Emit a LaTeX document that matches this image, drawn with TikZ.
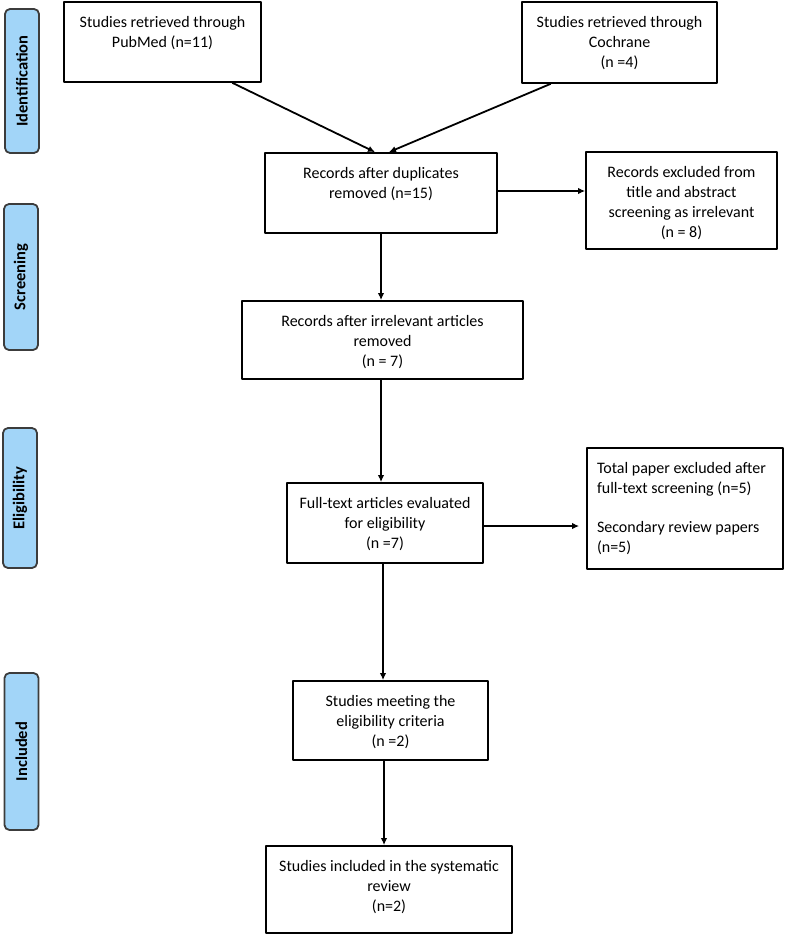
\documentclass[tikz,border=0pt]{standalone}
\usepackage{fontspec}
\setmainfont{Carlito}
\usepackage{xcolor}
\usetikzlibrary{arrows.meta}
\usetikzlibrary{positioning}
\definecolor{phaseblue}{RGB}{162,213,248}
\definecolor{phaseline}{RGB}{60,60,60}
% top-aligned box text: height, width, text
\newcommand{\toptxt}[3]{\parbox[c][#1][t]{#2}{\centering #3}}

\begin{document}
\begin{tikzpicture}[x=1pt,y=-1pt,line cap=round,line join=round,
  font=\fontsize{16}{20}\selectfont,
  flowbox/.style={draw=black,line width=1.8pt,fill=white,inner xsep=4pt,inner ysep=14pt},
  phase/.style={draw=phaseline,line width=1.8pt,fill=phaseblue,rounded corners=5pt,
    rotate=90,minimum height=34pt,inner sep=0pt,font=\fontsize{16.5}{20}\selectfont\bfseries},
  arr/.style={line width=1.8pt,-{Latex[length=7pt,width=6.5pt]}}]
\useasboundingbox (0,0) rectangle (786,936);
% phase labels
\node[phase,minimum width=144pt] (ident) at (22,81) {Identification};
\node[phase,minimum width=146pt] (screen) at (21,277) {Screening};
\node[phase,minimum width=140pt] (elig) at (20,498) {Eligibility};
\node[phase,minimum width=157pt] (incl) at (21.5,751.5) {Included};
% flow boxes
\node[flowbox] (pubmed) at (162.5,42) {\toptxt{52pt}{189pt}{Studies retrieved through\\PubMed (n=11)}};
\node[flowbox] (cochrane) at (619.5,42.5) {\toptxt{53pt}{187pt}{Studies retrieved through\\Cochrane\\(n =4)}};
\node[flowbox] (dupl) at (381,193) {\toptxt{52pt}{224pt}{Records after duplicates\\removed (n=15)}};
\node[flowbox] (excla) at (681.5,200.5) {\toptxt{69pt}{183pt}{Records excluded from\\title and abstract\\screening as irrelevant\\(n = 8)}};
\node[flowbox] (irrel) at (382.5,340) {\toptxt{50pt}{273pt}{Records after irrelevant articles\\removed\\(n = 7)}};
\node[flowbox] (fulltext) at (385,523) {\toptxt{52pt}{188pt}{Full-text articles evaluated\\for eligibility\\(n =7)}};
\node[flowbox,inner xsep=10pt] (exclb) at (685,508.5) {\parbox[c][93pt][t]{176pt}{\raggedright Total paper excluded after\\full-text screening (n=5)\\[19pt]Secondary review papers\\(n=5)}};
\node[flowbox] (meeting) at (390.5,720.5) {\toptxt{51pt}{187pt}{Studies meeting the\\eligibility criteria\\(n =2)}};
\node[flowbox] (included) at (389,889.5) {\toptxt{59pt}{238pt}{Studies included in the systematic\\review\\(n=2)}};
% connectors
\draw[arr] ([xshift=70pt]pubmed.south) -- ([xshift=-6pt]dupl.north);
\draw[arr] ([xshift=-69pt]cochrane.south) -- ([xshift=8pt]dupl.north);
\draw[arr] ([yshift=2pt]dupl.east) -- ([yshift=2pt]dupl.east -| excla.west);
\draw[arr] (dupl.south) -- (dupl.south |- irrel.north);
\draw[arr] ([xshift=-1.5pt]irrel.south) -- ([xshift=-1.5pt]irrel.south |- fulltext.north);
\draw[arr] ([yshift=-3pt]fulltext.east) -- ([yshift=-3pt,xshift=-7pt]fulltext.east -| exclb.west);
\draw[arr] ([xshift=-2pt]fulltext.south) -- ([xshift=-2pt]fulltext.south |- meeting.north);
\draw[arr] ([xshift=-6.5pt]meeting.south) -- ([xshift=-6.5pt]meeting.south |- included.north);
\end{tikzpicture}
\end{document}
